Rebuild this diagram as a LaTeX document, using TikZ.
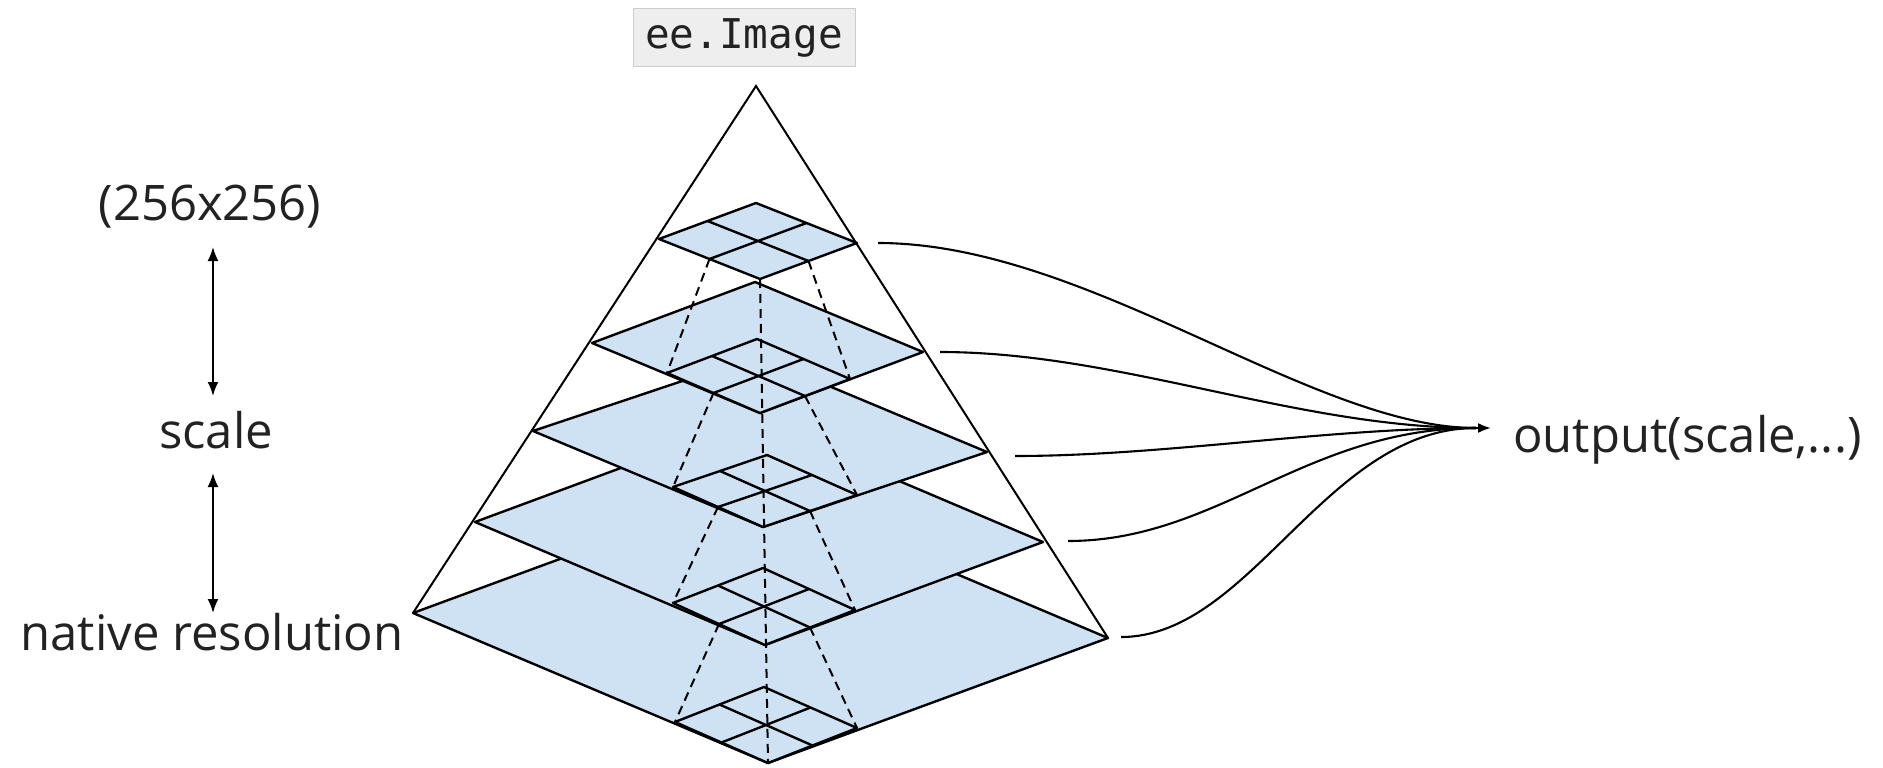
\documentclass[tikz,border=0pt]{standalone}
\usepackage{fontspec}
\setmainfont{Open Sans}
\newfontfamily\codefont{DejaVu Sans Mono}
\usetikzlibrary{calc,arrows.meta}
\definecolor{planeblue}{HTML}{CFE2F3}
\definecolor{txtgray}{HTML}{222222}
\definecolor{codebg}{HTML}{EEEEEE}
\definecolor{codeborder}{HTML}{CCCCCC}
\tikzset{
  pyrplane/.style={fill=planeblue, draw=black, line width=2.4pt, line join=round},
  gridline/.style={draw=black, line width=2.4pt},
  dashline/.style={draw=black, line width=2pt, dash pattern=on 9pt off 6pt},
  pyredge/.style={draw=black, line width=2pt},
  flowline/.style={draw=black, line width=2.1pt},
  lbl/.style={font=\fontsize{49}{58}\selectfont, text=txtgray, inner sep=0pt},
  codebox/.style={font=\codefont\fontsize{41}{50}\selectfont, fill=codebg, draw=codeborder, line width=1pt,
    minimum width=222pt, minimum height=58pt, inner sep=0pt, text=txtgray},
  dblarrow/.style={line width=2pt, {Latex[length=14pt,width=11pt]}-{Latex[length=14pt,width=11pt]}},
}
\newcommand\mkplane[4]{%
  \coordinate (#1B) at #2;
  \coordinate (#1L) at #3;
  \coordinate (#1R) at #4;
  \coordinate (#1T) at ($(#1L)+(#1R)-(#1B)$);
  \filldraw[pyrplane] (#1B) -- (#1L) -- (#1T) -- (#1R) -- cycle;
}
\newcommand\mkgrid[1]{%
  \draw[gridline] ($(#1L)!0.5!(#1T)$) -- ($(#1B)!0.5!(#1R)$);
  \draw[gridline] ($(#1T)!0.5!(#1R)$) -- ($(#1L)!0.5!(#1B)$);
}
\begin{document}
\begin{tikzpicture}[x=1pt,y=-1pt]
\useasboundingbox (0,0) rectangle (1883,768);

% layers, bottom first
\mkplane{P5}{(768,763)}{(413,613)}{(1108,638)}
\mkplane{S5}{(768,763)}{(675,722)}{(857,728)}
\mkgrid{S5}
\mkplane{P4}{(765,645)}{(475,522)}{(1043,542)}
\mkplane{S4}{(765,645)}{(673,603)}{(855,610)}
\mkgrid{S4}
\mkplane{P3}{(763,527)}{(533,431)}{(987,452)}
\mkplane{S3}{(763,527)}{(673,487)}{(857,495)}
\mkgrid{S3}
\mkplane{P2}{(760,413)}{(592,343)}{(923,352)}
\mkplane{S2}{(760,413)}{(667,373)}{(850,379)}
\mkgrid{S2}
\mkplane{P1}{(760,279)}{(659,239)}{(857,243)}
\mkgrid{P1}

% dashed correspondences
\draw[dashline] ($(P1L)!0.5!(P1B)$) -- (S2L);
\draw[dashline] ($(P1B)!0.5!(P1R)$) -- (S2R);
\draw[dashline] ($(S2L)!0.5!(S2B)$) -- (S3L);
\draw[dashline] ($(S2B)!0.5!(S2R)$) -- (S3R);
\draw[dashline] ($(S3L)!0.5!(S3B)$) -- (S4L);
\draw[dashline] ($(S3B)!0.5!(S3R)$) -- (S4R);
\draw[dashline] ($(S4L)!0.5!(S4B)$) -- (S5L);
\draw[dashline] ($(S4B)!0.5!(S4R)$) -- (S5R);
\draw[dashline] (P1B) -- (S5B);

% pyramid outline
\coordinate (apex) at (756,86);
\draw[pyredge] (P5L) -- (apex) -- (P5R);

% title
\node[codebox] (eeimage) at (744,38) {ee.Image};

% outputs
\coordinate (c1) at (878,243);
\coordinate (c2) at (940,352);
\coordinate (c3) at (1015,456);
\coordinate (c4) at (1068,541);
\coordinate (c5) at (1121,637);
\coordinate (conv) at (1476,428);
\coordinate (tip) at (1491,428);
\draw[flowline] (c1) .. controls +(210,0) and +(-165,0) .. (conv);
\draw[flowline] (c2) .. controls +(180,0) and +(-180,0) .. (conv);
\draw[flowline] (c3) .. controls +(150,0) and +(-150,0) .. (conv);
\draw[flowline] (c4) .. controls +(150,0) and +(-170,0) .. (conv);
\draw[flowline] (c5) .. controls +(130,0) and +(-150,0) .. (conv);
\draw[flowline, -{Latex[length=13pt,width=10pt]}] (conv) -- (tip);
\node[lbl, anchor=base west] (outlbl) at (1513,452) {output(scale,...)};

% scale axis
\node[lbl, anchor=base] (top256) at (210,220) {(256x256)};
\node[lbl, anchor=base] (scalelbl) at (216,448) {scale};
\node[lbl, anchor=base] (native) at (212,650) {native resolution};
\coordinate (a1t) at (213,247);
\coordinate (a1b) at (213,396);
\coordinate (a2t) at (213,473);
\coordinate (a2b) at (213,613);
\draw[dblarrow] (a1t) -- (a1b);
\draw[dblarrow] (a2t) -- (a2b);
\end{tikzpicture}
\end{document}
